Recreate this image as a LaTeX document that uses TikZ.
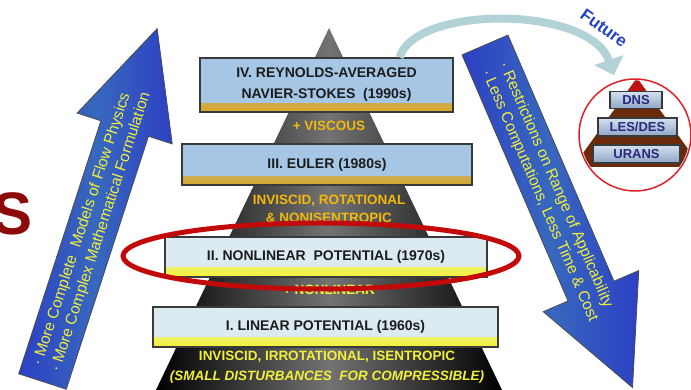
\documentclass[tikz,border=0pt]{standalone}
\usepackage{fontspec}
\setmainfont{Liberation Sans}
\usepackage{tikz}
\usetikzlibrary{
  calc,        % Coordinate math
  arrows.meta  % Arrow tips
}

\definecolor{skyfill}{HTML}{A6C6E6}
\definecolor{icefill}{HTML}{DCEBF1}
\definecolor{goldband}{HTML}{D8A62A}
\definecolor{lemonband}{HTML}{F4F238}
\definecolor{boxline}{HTML}{3A3A3A}
\definecolor{boxtext}{HTML}{1C1C1C}
\definecolor{goldtext}{HTML}{F2B80A}
\definecolor{lemontext}{HTML}{F2F03A}
\definecolor{ringred}{HTML}{C30A0A}
\definecolor{circlered}{HTML}{E0202A}
\definecolor{arrowblue}{HTML}{2C40C4}
\definecolor{arrowteal}{HTML}{3868BE}
\definecolor{futurefill}{HTML}{B2D2D8}
\definecolor{futureblue}{HTML}{2444C4}
\definecolor{minitext}{HTML}{2A2A7C}
\definecolor{minitop}{HTML}{D4E0F0}
\definecolor{minibottom}{HTML}{8FA6C6}
\definecolor{minibrown}{HTML}{6A2A0C}
\definecolor{minired}{HTML}{C01010}
\definecolor{titlered}{HTML}{8C0A0A}

\tikzset{
  layerbox/.style={draw=boxline, line width=1.2pt, inner sep=0pt, align=center,
    font=\fontsize{14}{21}\selectfont\bfseries, text=boxtext},
  upperbox/.style={layerbox, fill=skyfill,
    path picture={\fill[top color=skyfill, bottom color=goldband]
      ([yshift=8pt]path picture bounding box.south west) rectangle (path picture bounding box.south east);}},
  lowerbox/.style={layerbox, fill=icefill,
    path picture={\fill[top color=icefill, bottom color=lemonband]
      ([yshift=9pt]path picture bounding box.south west) rectangle (path picture bounding box.south east);}},
  layernote/.style={font=\fontsize{13.5}{18}\selectfont\bfseries, text=goldtext, align=center, inner sep=0pt},
  bluearrow/.style={draw=black!70, line width=0.8pt, left color=arrowblue, right color=arrowblue, middle color=arrowteal},
  arrowtext/.style={font=\fontsize{15.5}{19}\selectfont, text=lemontext, align=left, inner sep=0pt},
  minibox/.style={draw=boxline, line width=1.2pt, top color=minitop, bottom color=minibottom, inner sep=0pt,
    font=\fontsize{13}{13}\selectfont\bfseries, text=minitext, minimum height=17pt},
  futurearrow/.style={futurefill, line width=8pt, -{Triangle[width=30pt,length=16pt]}}
}

\begin{document}
\begin{tikzpicture}[x=1pt, y=1pt]
  \useasboundingbox (0,0) rectangle (691,390);

  % cut-off title letter
  \node[font=\fontsize{60}{60}\selectfont\bfseries, text=titlered, inner sep=0pt] (word) at (13,176.5) {S};

  % main pyramid
  \shade[left color=black, right color=black, middle color=black!55] (156,0) -- (329,362) -- (502,0) -- cycle;

  \node[upperbox, minimum width=253pt, minimum height=54pt] (rans) at (326.5,305) {IV. REYNOLDS-AVERAGED\\NAVIER-STOKES\ \ (1990s)};
  \node[layernote] (viscous) at (329,264) {+ VISCOUS};
  \node[upperbox, minimum width=290pt, minimum height=41pt] (euler) at (327,225.5) {III. EULER (1980s)};
  \node[layernote] (rotational) at (329,181) {INVISCID, ROTATIONAL\\\& NONISENTROPIC};
  \node[lowerbox, minimum width=322pt, minimum height=40pt] (nonlin) at (326,133) {II. NONLINEAR\ \ POTENTIAL (1970s)};
  \node[layernote, text=lemontext] (nonlinear) at (329,100) {+ NONLINEAR};
  \node[lowerbox, minimum width=345pt, minimum height=40pt] (linear) at (325.5,63) {I. LINEAR POTENTIAL (1960s)};
  \node[layernote, text=lemontext, font=\fontsize{13.5}{20}\selectfont\bfseries] (isentropic) at (327,23)
    {INVISCID, IRROTATIONAL, ISENTROPIC\\\textit{(SMALL DISTURBANCES\ \ FOR COMPRESSIBLE)}};

  % highlight ring
  \draw[ringred, line width=5pt] (321,134) ellipse [x radius=198, y radius=33];

  % left arrow
  \begin{scope}[shift={(42.5,8.5)}, rotate=-18]
    \draw[bluearrow] (-25,0) -- (-25,266) -- (-50,266) -- (0,371) -- (50,266) -- (25,266) -- (25,0) -- cycle;
    \node[arrowtext, rotate=72] (physics) at (0,160) {·\ More Complete\ \ Models of Flow Physics\\·\ More Complex Mathematical Formulation};
  \end{scope}

  % right arrow
  \begin{scope}[shift={(485,345)}, rotate=-156.7]
    \draw[bluearrow] (-25,0) -- (-25,268) -- (-52,268) -- (0,373) -- (52,268) -- (25,268) -- (25,0) -- cycle;
    \node[arrowtext, rotate=-66.7] (cost) at (0,160) {·\ Restrictions on Range of Applicability\\·\ Less Computations, Less Time \& Cost};
  \end{scope}

  % future
  \node[draw=circlered, line width=1.5pt, fill=white, circle, minimum size=112pt, inner sep=0pt] (future) at (635,255) {};
  \draw[futurearrow] ([xshift=-54pt]rans.north east) .. controls (415,385) and (590,385) .. ([xshift=-21pt,yshift=3pt]future.north);
  \node[font=\fontsize{17}{17}\selectfont\bfseries, text=futureblue, rotate=-36] (futuretag) at (604,362) {Future};

  \begin{scope}
    \clip (future.center) circle (54.5);
    \fill[minibrown] (637,312) -- (573,223) -- (701,223) -- cycle;
    \fill[minired] (637,312) -- (627,298) -- (647,298) -- cycle;
  \end{scope}
  \node[minibox, minimum width=52pt] (dns) at (636,290) {DNS};
  \node[minibox, minimum width=79pt, minimum height=18pt] (les) at (637.5,263) {LES/DES};
  \node[minibox, minimum width=87pt, minimum height=18pt] (urans) at (636.5,236) {URANS};
\end{tikzpicture}
\end{document}
